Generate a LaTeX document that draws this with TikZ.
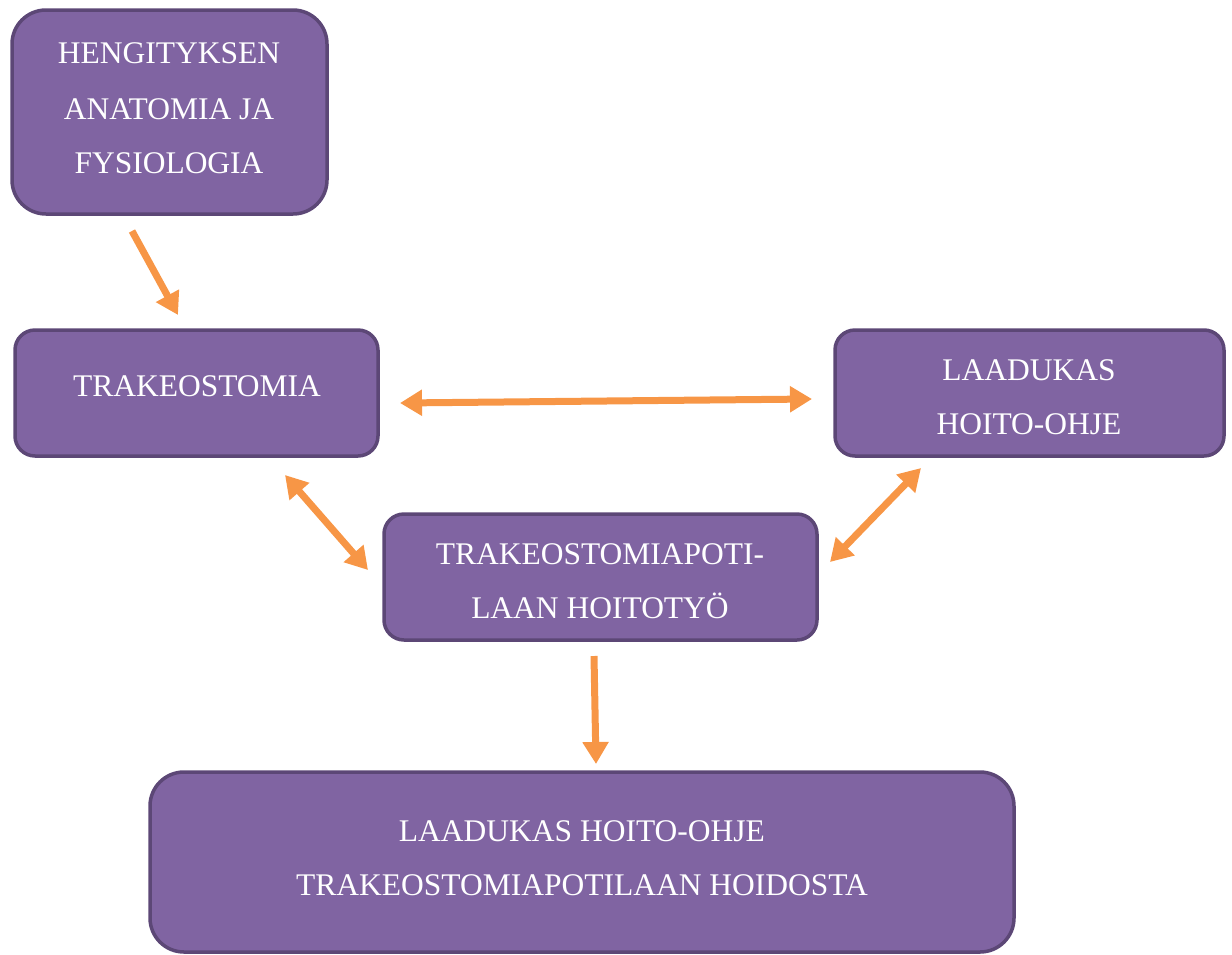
\documentclass[tikz,border=0pt]{standalone}
\usepackage{fontspec}
\setmainfont{Liberation Serif}
\usetikzlibrary{arrows.meta}
\definecolor{boxfill}{HTML}{8064A2}
\definecolor{boxline}{HTML}{5C4776}
\definecolor{arrorange}{HTML}{F79646}
\tikzset{
  box/.style={draw=boxline, line width=3.5pt, fill=boxfill, rectangle, inner sep=0pt},
  lbl/.style={text=white, align=center, font=\fontsize{31.5}{54}\selectfont, inner sep=0pt},
  arr/.style={draw=arrorange, line width=7pt, -{Triangle[length=22pt,width=25pt]}},
  darr/.style={draw=arrorange, line width=7pt, {Triangle[length=22pt,width=25pt]}-{Triangle[length=22pt,width=25pt]}},
}
\begin{document}
\begin{tikzpicture}[x=1pt,y=-1pt]
\useasboundingbox (0,0) rectangle (1232,954);
% boxes
\draw[box, rounded corners=34pt] (12,10) rectangle (327,214);
\draw[box, rounded corners=20pt] (15,330) rectangle (378,456);
\draw[box, rounded corners=20pt] (835,330) rectangle (1224,456);
\draw[box, rounded corners=20pt] (384,514) rectangle (817,640);
\draw[box, rounded corners=34pt] (150,772) rectangle (1014,952);
% labels
\node[lbl, anchor=base] (t1a) at (169,63) {HENGITYKSEN};
\node[lbl, anchor=base] (t1b) at (169,119) {ANATOMIA JA};
\node[lbl, anchor=base] (t1c) at (169,173) {FYSIOLOGIA};
\node[lbl, anchor=base] (t2) at (197,396) {TRAKEOSTOMIA};
\node[lbl, anchor=base] (t3a) at (1029,380) {LAADUKAS};
\node[lbl, anchor=base] (t3b) at (1029,434) {HOITO-OHJE};
\node[lbl, anchor=base] (t4a) at (600,564) {TRAKEOSTOMIAPOTI-};
\node[lbl, anchor=base] (t4b) at (600,618) {LAAN HOITOTYÖ};
\node[lbl, anchor=base] (t5a) at (582,841) {LAADUKAS HOITO-OHJE};
\node[lbl, anchor=base] (t5b) at (582,895) {TRAKEOSTOMIAPOTILAAN HOIDOSTA};
% arrow endpoints
\coordinate (a1s) at (132,231);
\coordinate (a1e) at (178,315);
\coordinate (a2s) at (400,403);
\coordinate (a2e) at (812,399);
\coordinate (a3s) at (285,475);
\coordinate (a3e) at (368,570);
\coordinate (a4s) at (921,468);
\coordinate (a4e) at (830,562);
\coordinate (a5s) at (594,656);
\coordinate (a5e) at (596,764);
% arrows
\draw[arr] (a1s) -- (a1e);
\draw[darr] (a2s) -- (a2e);
\draw[darr] (a3s) -- (a3e);
\draw[darr] (a4s) -- (a4e);
\draw[arr] (a5s) -- (a5e);
\end{tikzpicture}
\end{document}
